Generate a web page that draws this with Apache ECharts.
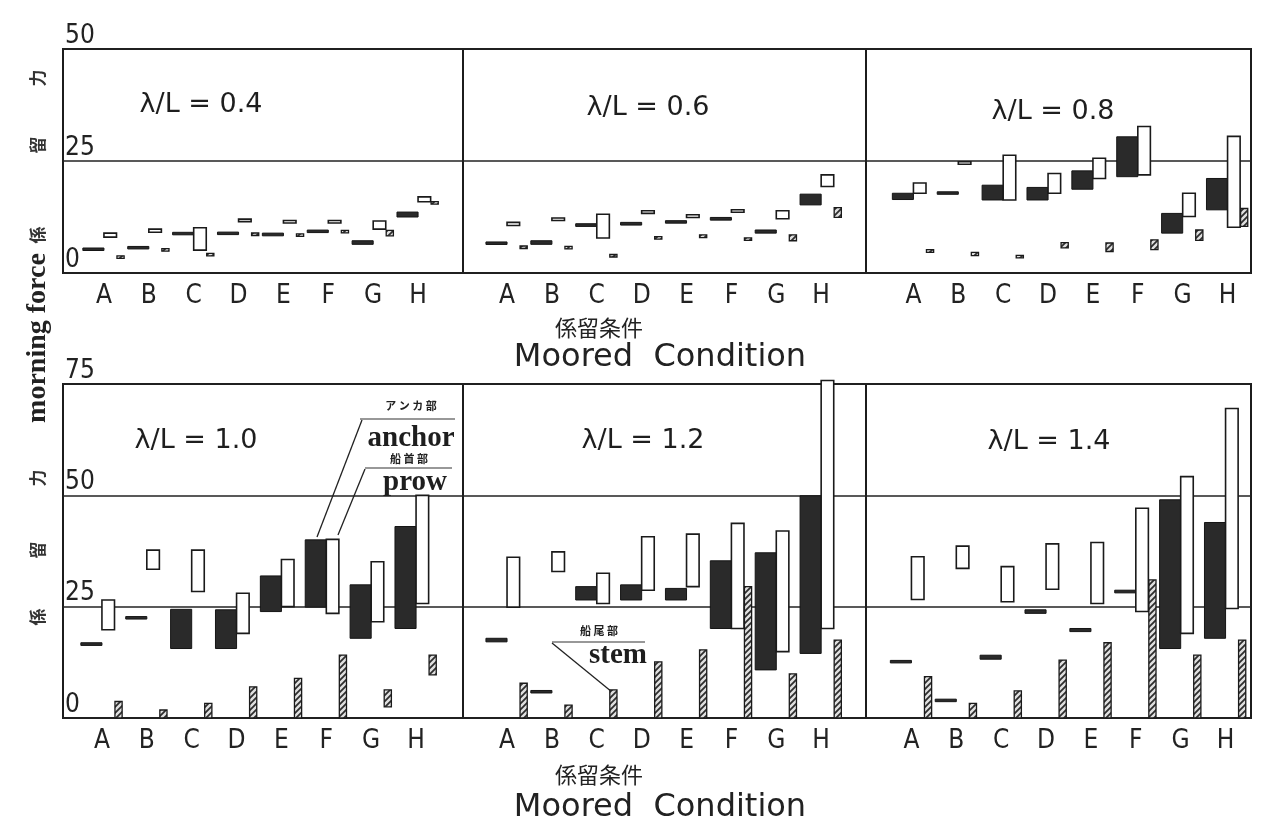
<!DOCTYPE html>
<html><head><meta charset="utf-8">
<script src="https://cdn.jsdelivr.net/npm/echarts@6/dist/echarts.min.js"></script>
<style>html,body{margin:0;padding:0;background:#fff}#c{width:1264px;height:825px}</style>
</head><body><div id="c"></div>
<script>
// ---- data ----
const categories = ['A','B','C','D','E','F','G','H'];
const lambdaValues = ['0.4','0.6','0.8','1.0','1.2','1.4'];
const yTicksTop = [0, 25, 50];
const yTicksBottom = [0, 25, 50, 75];

// [low, high] ranges of mooring force per condition A..H
const anchor_04 = [[5.1,5.5],[5.4,5.9],[8.6,9.0],[8.7,9.0],[8.3,8.9],[9.1,9.5],[6.4,7.2],[12.5,13.6]];
const prow_04   = [[8.0,8.9],[9.1,9.8],[5.1,10.1],[11.5,12.0],[11.2,11.7],[11.2,11.7],[9.8,11.6],[15.9,17.0]];
const stem_04   = [[3.3,3.8],[4.9,5.4],[3.9,4.3],[8.4,8.9],[8.2,8.7],[9.0,9.5],[8.3,9.5],[15.4,15.9]];

const anchor_06 = [[6.4,6.9],[6.4,7.2],[10.4,11.0],[10.7,11.3],[11.2,11.6],[11.8,12.4],[8.9,9.6],[15.2,17.6]];
const prow_06   = [[10.6,11.3],[11.8,12.2],[7.8,13.1],[13.3,13.9],[12.4,13.0],[13.6,14.1],[12.1,13.9],[19.3,21.9]];
const stem_06   = [[5.6,5.9],[5.4,5.9],[3.6,4.1],[7.6,8.1],[7.9,8.5],[7.3,7.8],[7.2,8.5],[12.4,14.6]];

const anchor_08 = [[16.4,17.8],[17.6,18.1],[16.3,19.6],[16.3,19.1],[18.7,22.8],[21.5,30.4],[8.9,13.3],[14.1,21.1]];
const prow_08   = [[17.8,20.1],[24.3,24.8],[16.3,26.3],[17.8,22.2],[21.1,25.6],[21.9,32.7],[12.6,17.8],[10.2,30.5]];
const stem_08   = [[4.6,5.2],[3.9,4.6],[3.4,3.9],[5.6,6.8],[4.8,6.7],[5.2,7.4],[7.3,9.6],[10.4,14.4]];

const anchor_10 = [[16.3,16.9],[22.3,22.7],[15.6,24.4],[15.6,24.3],[23.9,31.9],[24.9,40.0],[17.9,29.9],[20.1,43.0]];
const prow_10   = [[19.8,26.5],[33.4,37.7],[28.4,37.7],[19.0,28.0],[25.0,35.6],[23.5,40.1],[21.6,35.1],[25.7,50.0]];
const stem_10   = [[0,3.7],[0,1.8],[0,3.3],[0,7.0],[0,8.9],[0,14.1],[2.5,6.3],[9.7,14.1]];

const anchor_12 = [[17.1,17.9],[5.7,6.1],[26.5,29.5],[26.5,29.9],[26.5,29.1],[20.1,35.3],[10.8,37.1],[14.5,49.9]];
const prow_12   = [[24.9,36.1],[32.9,37.3],[25.7,32.5],[28.7,40.7],[29.5,41.3],[20.1,43.7],[14.9,42.0],[20.1,75.8]];
const stem_12   = [[0,7.8],[0,2.9],[0,6.3],[0,12.6],[0,15.3],[0,29.5],[0,9.9],[0,17.5]];

const anchor_14 = [[12.4,12.9],[3.7,4.2],[13.2,14.1],[23.5,24.3],[19.4,20.1],[28.1,28.7],[15.6,49.0],[17.9,43.9]];
const prow_14   = [[26.6,36.2],[33.6,38.6],[26.1,34.0],[28.9,39.1],[25.7,39.4],[23.9,47.1],[19.0,54.2],[24.6,69.5]];
const stem_14   = [[0,9.3],[0,3.3],[0,6.1],[0,13.0],[0,16.9],[0,31.0],[0,14.1],[0,17.5]];

const panelData = [
  [anchor_04, prow_04, stem_04],
  [anchor_06, prow_06, stem_06],
  [anchor_08, prow_08, stem_08],
  [anchor_10, prow_10, stem_10],
  [anchor_12, prow_12, stem_12],
  [anchor_14, prow_14, stem_14]
];

// ---- layout ----
const frameX = [[63, 463], [463, 866], [866, 1251]];
const rowY = [[49, 273], [384, 718]];
const dataLeft = [[81.5, 484.6, 891], [79.5, 484.6, 889]];
const bandTotal = 359;
const titlePos = [[201,105],[648,108],[1053,112],[196,441],[643,441],[1049,442]];

const NARROW = "'Liberation Sans Narrow','DejaVu Sans Condensed','Liberation Sans',sans-serif";

// hatch pattern for stem bars
const hatch = document.createElement('canvas');
hatch.width = 6; hatch.height = 6;
(function(){
  const g = hatch.getContext('2d');
  g.fillStyle = '#e0e0e0'; g.fillRect(0,0,6,6);
  g.strokeStyle = '#2e2e2e'; g.lineWidth = 1.8;
  g.beginPath(); g.moveTo(0,6); g.lineTo(6,0); g.moveTo(-3,3); g.lineTo(3,-3); g.moveTo(3,9); g.lineTo(9,3); g.stroke();
})();

const kinds = [
  {name:'anchor', off:[-0.47, 0], style:{fill:'#2a2a2a', stroke:'#151515', lineWidth:1}},
  {name:'prow',   off:[0, 0.28],  style:{fill:'#ffffff', stroke:'#1a1a1a', lineWidth:1.6}},
  {name:'stem',   off:[0.29, 0.45], style:{fill:{image:hatch, repeat:'repeat'}, stroke:'#1a1a1a', lineWidth:1.3}}
];

function makeRender(kind) {
  return function(params, api) {
    const c = api.value(0), lo = api.value(1), hi = api.value(2);
    const pLo = api.coord([c, lo]);
    const pHi = api.coord([c, hi]);
    const bw = api.size([1, 0])[0];
    const x0 = pLo[0] + bw * kind.off[0];
    const x1 = pLo[0] + bw * kind.off[1];
    let y0 = pHi[1], h = pLo[1] - pHi[1];
    if (h < 2.5) { y0 = (pLo[1] + pHi[1]) / 2 - 1.25; h = 2.5; }
    return {type:'rect', shape:{x:x0, y:y0, width:x1 - x0, height:h}, style:Object.assign({}, kind.style)};
  };
}

const grid = [], xAxis = [], yAxis = [], series = [];
for (let p = 0; p < 6; p++) {
  const row = Math.floor(p / 3), col = p % 3;
  const ymax = row === 0 ? yTicksTop[yTicksTop.length-1] : yTicksBottom[yTicksBottom.length-1];
  const [fx0, fx1] = frameX[col];
  const [fy0, fy1] = rowY[row];
  // frame grid
  grid.push({left: fx0, top: fy0, width: fx1 - fx0, height: fy1 - fy0, show: true,
    borderColor: '#1c1c1c', borderWidth: 2, backgroundColor: 'transparent', containLabel: false});
  const fg = grid.length - 1;
  xAxis.push({gridIndex: fg, type: 'value', min: 0, max: 1, show: false});
  yAxis.push({gridIndex: fg, type: 'value', min: 0, max: ymax, interval: 25,
    axisLine: {show: false}, axisTick: {show: false},
    splitLine: {show: true, lineStyle: {color: '#222', width: 1.5}},
    axisLabel: {show: col === 0, inside: true, verticalAlign: 'bottom', margin: 2,
      showMinLabel: true, showMaxLabel: true,
      color: '#222', fontSize: 26, fontFamily: NARROW}});
  // data grid
  grid.push({left: dataLeft[row][col], top: fy0, width: bandTotal, height: fy1 - fy0, show: false});
  const dg = grid.length - 1;
  xAxis.push({gridIndex: dg, type: 'category', data: categories, boundaryGap: true,
    axisLine: {show: false}, axisTick: {show: false}, splitLine: {show: false},
    axisLabel: {color: '#222', fontSize: 26, fontFamily: NARROW, margin: 10, interval: 0}});
  yAxis.push({gridIndex: dg, type: 'value', min: 0, max: ymax, show: false, splitLine:{show:false}});
  const xi = xAxis.length - 1, yi = yAxis.length - 1;
  kinds.forEach((k, ki) => {
    series.push({
      type: 'custom', name: k.name + ' λ/L=' + lambdaValues[p],
      xAxisIndex: xi, yAxisIndex: yi, clip: false, silent: true,
      renderItem: makeRender(k),
      encode: {x: 0, y: [1, 2]},
      data: panelData[p][ki].map((r, i) => [i, r[0], r[1]]),
      z: ki === 0 ? 3 : (ki === 1 ? 4 : 2)
    });
  });
}

const graphic = [];
lambdaValues.forEach((v, i) => {
  graphic.push({type: 'text', x: titlePos[i][0], y: titlePos[i][1],
    style: {text: 'λ/L = ' + v, align: 'center', verticalAlign: 'middle',
      font: "27px 'DejaVu Sans', sans-serif", fill: '#1e1e1e'}});
});
// axis titles
[[328, 358], [775, 808]].forEach(([yj, ye]) => {
  graphic.push({type:'text', x: 599, y: yj, style:{text:'係留条件', align:'center', verticalAlign:'middle',
    font: "22px 'Noto Sans CJK JP', sans-serif", fill:'#222'}});
  graphic.push({type:'text', x: 660, y: ye, style:{text:'Moored  Condition', align:'center', verticalAlign:'middle',
    font: "32px 'DejaVu Sans', sans-serif", fill:'#222'}});
});
// vertical y label
graphic.push({type:'text', x: 38, y: 338, rotation: Math.PI/2,
  style:{text:'morning force', align:'center', verticalAlign:'middle',
    font:"bold 28px 'Liberation Serif', serif", fill:'#222'}});
[['力',78],['留',145],['係',235],['力',478],['留',550],['係',617]].forEach(([t, y]) => {
  graphic.push({type:'text', x: 38, y: y, rotation: Math.PI/2,
    style:{text:t, align:'center', verticalAlign:'middle',
      font:"bold 17px 'Noto Sans CJK JP', sans-serif", fill:'#333'}});
});
// annotations
const smallJP = "bold 11px 'Noto Sans CJK JP', sans-serif";
const boldSerif = "bold 29px 'Liberation Serif', serif";
graphic.push(
  {type:'text', x:411, y:406, style:{text:'ア ン カ 部', align:'center', verticalAlign:'middle', font:smallJP, fill:'#222'}},
  {type:'line', shape:{x1:360, y1:419, x2:455, y2:419}, style:{stroke:'#333', lineWidth:1.2}},
  {type:'text', x:411, y:439, style:{text:'anchor', align:'center', verticalAlign:'middle', font:boldSerif, fill:'#1e1e1e'}},
  {type:'text', x:409, y:459, style:{text:'船 首 部', align:'center', verticalAlign:'middle', font:smallJP, fill:'#222'}},
  {type:'line', shape:{x1:365, y1:468, x2:452, y2:468}, style:{stroke:'#333', lineWidth:1.2}},
  {type:'text', x:415, y:483, style:{text:'prow', align:'center', verticalAlign:'middle', font:boldSerif, fill:'#1e1e1e'}},
  {type:'line', shape:{x1:362, y1:420, x2:317, y2:537}, style:{stroke:'#222', lineWidth:1.3}},
  {type:'line', shape:{x1:365, y1:469, x2:338, y2:535}, style:{stroke:'#222', lineWidth:1.3}},
  {type:'text', x:599, y:631, style:{text:'船 尾 部', align:'center', verticalAlign:'middle', font:smallJP, fill:'#222'}},
  {type:'line', shape:{x1:552, y1:642, x2:645, y2:642}, style:{stroke:'#333', lineWidth:1.2}},
  {type:'text', x:618, y:656, style:{text:'stem', align:'center', verticalAlign:'middle', font:boldSerif, fill:'#1e1e1e'}},
  {type:'line', shape:{x1:552, y1:643, x2:612, y2:692}, style:{stroke:'#222', lineWidth:1.3}}
);

const chart = echarts.init(document.getElementById('c'), null, {renderer:'canvas'});
chart.setOption({
  backgroundColor: '#ffffff',
  animation: false,
  grid, xAxis, yAxis, series, graphic
});
</script></body></html>
